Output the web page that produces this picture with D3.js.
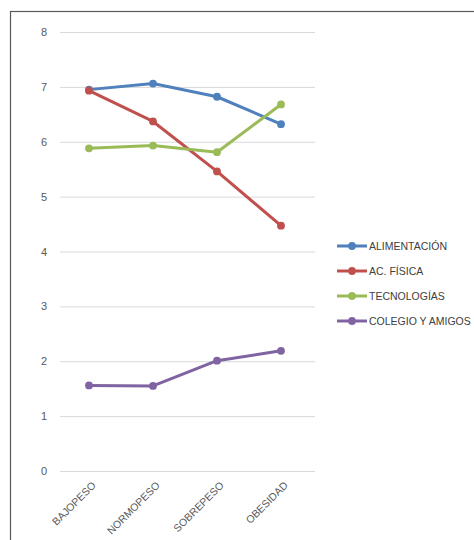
<!DOCTYPE html>
<html>
<head>
<meta charset="utf-8">
<script src="https://cdn.jsdelivr.net/npm/d3@7"></script>
<style>
  html, body { margin: 0; padding: 0; background: #fff; }
  svg { display: block; font-family: "Liberation Sans", Arial, sans-serif; }
</style>
</head>
<body>
<svg id="chart" width="474" height="540"></svg>
<script>
const categories = ["BAJOPESO", "NORMOPESO", "SOBREPESO", "OBESIDAD"];
const seriesNames = ["ALIMENTACIÓN", "AC. FÍSICA", "TECNOLOGÍAS", "COLEGIO Y AMIGOS"];
const alimentacion = [6.95, 7.06, 6.82, 6.32];
const acFisica = [6.93, 6.37, 5.46, 4.47];
const tecnologias = [5.88, 5.93, 5.81, 6.68];
const colegio = [1.56, 1.55, 2.01, 2.19];
const yTicks = [0, 1, 2, 3, 4, 5, 6, 7, 8];
const colors = ["#4f81bd", "#c0504d", "#9bbb59", "#8064a2"];

const series = [alimentacion, acFisica, tecnologias, colegio].map((values, i) => ({
  name: seriesNames[i], values, color: colors[i]
}));

const svg = d3.select("#chart");

// chart frame (runs past the right and bottom edges)
svg.append("rect")
  .attr("x", 10.5).attr("y", 11.5)
  .attr("width", 480).attr("height", 540)
  .attr("fill", "none").attr("stroke", "#595959").attr("stroke-width", 1.2);

const x = d3.scalePoint().domain(categories).range([89, 281]);
const y = d3.scaleLinear().domain([0, 8]).range([471, 32]);

// horizontal gridlines + value labels
const yAxis = d3.axisLeft(y).tickValues(yTicks).tickSize(-255).tickPadding(13);
const yg = svg.append("g").attr("transform", "translate(60,0)").call(yAxis);
yg.select(".domain").remove();
yg.selectAll(".tick line").attr("stroke", "#d9d9d9").attr("stroke-width", 1);
yg.selectAll(".tick text").attr("fill", "#595959").attr("font-size", 11);

// category labels, rotated
const xAxis = d3.axisBottom(x).tickSize(0).tickPadding(0);
const xg = svg.append("g").attr("transform", "translate(0,471)").call(xAxis);
xg.select(".domain").remove();
xg.selectAll(".tick text")
  .attr("fill", "#595959").attr("font-size", 10.5)
  .attr("text-anchor", "end")
  .attr("dy", 0)
  .attr("transform", "translate(7,15) rotate(-45)");

// lines and markers
const line = d3.line().x((d, i) => x(categories[i])).y(d => y(d));
const g = svg.append("g");
series.forEach(s => {
  g.append("path")
    .attr("d", line(s.values))
    .attr("fill", "none").attr("stroke", s.color)
    .attr("stroke-width", 3).attr("stroke-linejoin", "round").attr("stroke-linecap", "round");
  g.selectAll(null).data(s.values).enter().append("circle")
    .attr("cx", (d, i) => x(categories[i])).attr("cy", d => y(d))
    .attr("r", 3.9).attr("fill", s.color);
});

// legend
const legend = svg.append("g");
series.forEach((s, i) => {
  const ly = 246 + i * 25;
  legend.append("line")
    .attr("x1", 337).attr("x2", 367).attr("y1", ly).attr("y2", ly)
    .attr("stroke", s.color).attr("stroke-width", 3);
  legend.append("circle").attr("cx", 352).attr("cy", ly).attr("r", 3.9).attr("fill", s.color);
  legend.append("text")
    .attr("x", 369).attr("y", ly).attr("dy", "0.35em")
    .attr("font-size", 10.5).attr("fill", "#404040")
    .text(s.name);
});
</script>
</body>
</html>
